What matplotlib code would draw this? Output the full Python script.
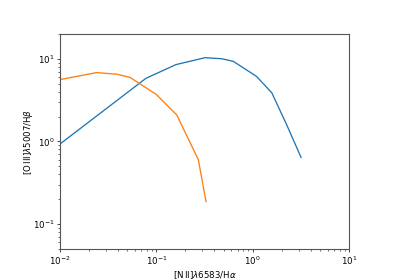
import numpy as np
import matplotlib
matplotlib.use('Agg')
import matplotlib.pyplot as plt

# curve 1 (blue)
x_blue = [0.01, 0.078, 0.16, 0.32, 0.48, 0.63, 1.10, 1.58, 2.26, 3.18]
y_blue = [0.93, 5.8, 8.5, 10.3, 10.0, 9.3, 6.1, 3.87, 1.58, 0.64]

# curve 2 (orange)
x_orange = [0.01, 0.024, 0.039, 0.053, 0.10, 0.163, 0.273, 0.328]
y_orange = [5.6, 6.8, 6.5, 5.97, 3.7, 2.09, 0.60, 0.187]

plt.rcParams['font.size'] = 6.25
plt.rcParams['xtick.major.pad'] = 2.0
plt.rcParams['ytick.major.pad'] = 2.0
plt.rcParams['xtick.major.size'] = 2.2
plt.rcParams['ytick.major.size'] = 2.2
plt.rcParams['xtick.minor.size'] = 1.25
plt.rcParams['ytick.minor.size'] = 1.25
plt.rcParams['xtick.major.width'] = 0.5
plt.rcParams['ytick.major.width'] = 0.5
plt.rcParams['xtick.minor.width'] = 0.4
plt.rcParams['ytick.minor.width'] = 0.4

fig = plt.figure(figsize=(4, 2.8), dpi=100)
ax = fig.add_axes([0.15, 0.111, 0.7225, 0.768])
ax.plot(x_blue, y_blue, lw=0.95)
ax.plot(x_orange, y_orange, lw=0.95)
ax.set_xscale('log')
ax.set_yscale('log')
ax.set_xlim(0.01, 10)
ax.set_ylim(0.05, 20)
ax.set_xlabel(r'$[\mathrm{N\,II}]\lambda6583/\mathrm{H}\alpha$', labelpad=1.5)
ax.set_ylabel(r'$[\mathrm{O\,III}]\lambda5007/\mathrm{H}\beta$')
ax.yaxis.set_label_coords(-0.085, 0.5)
for s in ax.spines.values():
    s.set_color('#555555')
    s.set_linewidth(0.8)

fig.savefig('out.png', dpi=100)
